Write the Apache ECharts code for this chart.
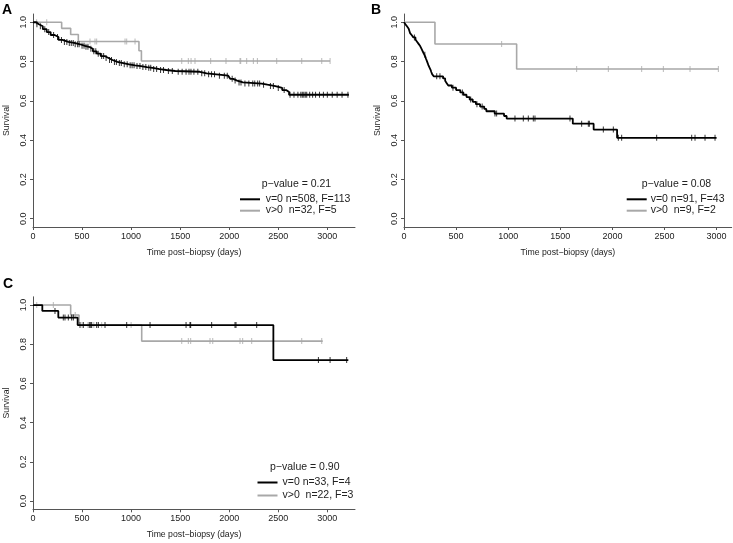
<!DOCTYPE html>
<html>
<head>
<meta charset="utf-8">
<script src="https://cdn.jsdelivr.net/npm/echarts@6/dist/echarts.min.js"></script>
<style>html,body{margin:0;padding:0;background:#fff}#c{width:733px;height:543px}</style>
</head>
<body>
<div id="c"></div>
<script>
// ---------- Data ----------
var xTicks = [0, 500, 1000, 1500, 2000, 2500, 3000];
var yTicks = [0, 0.2, 0.4, 0.6, 0.8, 1.0];

// Panel A: v=0 (n=508) Kaplan-Meier steps [day, survival]
var A_v0 = [[0,1.0],[30,0.99],[60,0.98],[100,0.965],[140,0.95],[180,0.935],[220,0.925],[260,0.91],[300,0.90],[360,0.895],[420,0.888],[480,0.88],[530,0.875],[570,0.865],[610,0.852],[650,0.84],[690,0.828],[730,0.818],[770,0.808],[810,0.798],[860,0.792],[920,0.786],[980,0.781],[1040,0.777],[1100,0.772],[1160,0.768],[1220,0.762],[1290,0.757],[1360,0.752],[1450,0.748],[1700,0.740],[1770,0.735],[1870,0.728],[1990,0.72],[2010,0.712],[2040,0.703],[2080,0.694],[2140,0.688],[2330,0.682],[2390,0.675],[2470,0.666],[2540,0.655],[2580,0.645],[2610,0.631],[3220,0.631]];
var A_v0_cens = [40,75,120,160,210,250,290,320,345,370,390,410,430,455,470,500,520,540,560,590,620,640,665,700,720,745,780,800,830,850,880,900,930,960,990,1010,1030,1060,1090,1120,1150,1180,1200,1230,1260,1300,1330,1380,1420,1480,1520,1560,1590,1610,1640,1680,1720,1750,1790,1820,1850,1900,1950,1980,2030,2060,2100,2120,2160,2200,2240,2260,2290,2310,2350,2420,2450,2500,2560,2620,2660,2700,2730,2745,2760,2775,2790,2820,2850,2880,2920,2960,3000,3050,3100,3150,3210];
// Panel A: v>0 (n=32)
var A_v1 = [[0,1.0],[292,0.969],[384,0.9375],[462,0.902],[1080,0.855],[1105,0.803],[3028,0.803]];
var A_v1_cens = [37,140,581,632,649,938,955,1040,1516,1583,1611,1651,1811,1967,2110,2117,2178,2246,2287,2484,2739,2943,3028];

// Panel B: v=0 (n=91)
var B_v0 = [[0,1.0],[15,0.989],[30,0.978],[45,0.967],[58,0.945],[75,0.934],[90,0.923],[110,0.912],[125,0.901],[140,0.89],[155,0.879],[165,0.868],[175,0.857],[185,0.846],[195,0.835],[205,0.824],[212,0.813],[220,0.802],[228,0.791],[235,0.78],[245,0.769],[255,0.758],[262,0.747],[270,0.736],[285,0.725],[375,0.714],[395,0.702],[410,0.69],[425,0.678],[460,0.667],[500,0.655],[540,0.643],[570,0.631],[600,0.619],[630,0.607],[660,0.595],[690,0.583],[730,0.571],[770,0.559],[790,0.547],[870,0.535],[960,0.523],[985,0.51],[1620,0.484],[1820,0.454],[2045,0.412],[3000,0.412]];
var B_v0_cens = [100,200,314,345,470,560,640,700,750,873,889,1065,1145,1193,1241,1257,1593,1705,1769,1779,1913,2009,2057,2089,2425,2761,2793,2889,2985];
// Panel B: v>0 (n=9)
var B_v1 = [[0,1.0],[297,0.889],[1081,0.762],[3017,0.762]];
var B_v1_cens = [937,1657,1961,2281,2489,2745,3017];

// Panel C: v=0 (n=33)
var C_v0 = [[0,1.0],[95,0.97],[258,0.936],[455,0.898],[2450,0.719],[3214,0.719]];
var C_v0_cens = [224,309,326,360,394,411,479,513,574,588,598,649,666,734,955,1193,1560,1600,1607,1821,2059,2069,2280,2909,3028,3197];
// Panel C: v>0 (n=22)
var C_v1 = [[0,1.0],[384,0.949],[469,0.898],[1108,0.816],[2953,0.816]];
var C_v1_cens = [38,207,430,500,560,620,700,1000,1516,1583,1607,1804,1832,2110,2137,2229,2450,2739,2943];

var legendTexts = [
  ['p\u2212value = 0.21', 'v=0 n=508, F=113', 'v>0  n=32, F=5'],
  ['p\u2212value = 0.08', 'v=0 n=91, F=43', 'v>0  n=9, F=2'],
  ['p\u2212value = 0.90', 'v=0 n=33, F=4', 'v>0  n=22, F=3']
];
var panelLabels = ['A', 'B', 'C'];

// ---------- Chart ----------
var FONT = '"Liberation Sans", Arial, Helvetica, sans-serif';
var BLACK = '#000000', GRAY = '#a8a8a8', AXIS = '#555555', TXT = '#222222';

function survAt(curve, t) {
  var v = curve[0][1];
  for (var i = 0; i < curve.length; i++) { if (curve[i][0] <= t) v = curve[i][1]; }
  return v;
}
function censPts(curve, times) { return times.map(function (t) { return [t, survAt(curve, t)]; }); }

var grids = [
  {left: 33, top: 14, width: 322, height: 213},
  {left: 404, top: 14, width: 327.7, height: 213},
  {left: 33, top: 296.8, width: 322, height: 212.5}
];
var xMax = [3282, 3145, 3282];

var xAxes = [], yAxes = [], series = [];
var panels = [[A_v0, A_v0_cens, A_v1, A_v1_cens], [B_v0, B_v0_cens, B_v1, B_v1_cens], [C_v0, C_v0_cens, C_v1, C_v1_cens]];

for (var i = 0; i < 3; i++) {
  xAxes.push({
    type: 'value', gridIndex: i, min: 0, max: xMax[i], interval: 500,
    axisLine: {show: true, onZero: false, lineStyle: {color: AXIS, width: 1}},
    axisTick: {show: true, length: 3, customValues: xTicks, lineStyle: {color: AXIS}},
    axisLabel: {customValues: xTicks, fontSize: 9, color: TXT, margin: 5, fontFamily: FONT,
      formatter: function (v) { return String(Math.round(v)); }},
    splitLine: {show: false},
    name: 'Time post\u2212biopsy (days)', nameLocation: 'middle', nameGap: 21,
    nameTextStyle: {fontSize: 8.7, color: TXT, fontFamily: FONT}
  });
  yAxes.push({
    type: 'value', gridIndex: i, min: -0.042, max: 1.042, interval: 0.2,
    axisLine: {show: true, onZero: false, lineStyle: {color: AXIS, width: 1}},
    axisTick: {show: true, length: 3, customValues: yTicks, lineStyle: {color: AXIS}},
    axisLabel: {customValues: yTicks, rotate: 90, fontSize: 9, color: TXT, margin: 5, fontFamily: FONT,
      formatter: function (v) { return v.toFixed(1); }},
    splitLine: {show: false},
    name: 'Survival', nameLocation: 'middle', nameGap: 22, nameRotate: 90,
    nameTextStyle: {fontSize: 8.7, color: TXT, fontFamily: FONT}
  });
  var p = panels[i];
  series.push({type: 'line', xAxisIndex: i, yAxisIndex: i, step: 'end', data: p[2], showSymbol: false,
    lineStyle: {color: GRAY, width: 1.6}, silent: true, z: 2});
  series.push({type: 'scatter', xAxisIndex: i, yAxisIndex: i, data: censPts(p[2], p[3]), symbol: 'rect',
    symbolSize: [1, 6], itemStyle: {color: GRAY}, silent: true, z: 2});
  series.push({type: 'line', xAxisIndex: i, yAxisIndex: i, step: 'end', data: p[0], showSymbol: false,
    lineStyle: {color: BLACK, width: 1.8}, silent: true, z: 3});
  series.push({type: 'scatter', xAxisIndex: i, yAxisIndex: i, data: censPts(p[0], p[1]), symbol: 'rect',
    symbolSize: [1, 6], itemStyle: {color: BLACK}, silent: true, z: 3});
}

// Legends and panel letters
var legendPos = [
  {px: 261.7, py: 185, lx: 240, tx: 265.7, y1: 199.3, y2: 210.7},
  {px: 641.7, py: 185, lx: 626.7, tx: 650.7, y1: 199.3, y2: 210.7},
  {px: 270, py: 468, lx: 257.5, tx: 282.5, y1: 482.5, y2: 495.5}
];
var letterPos = [[2, 3], [371, 3], [3, 277]];
var graphics = [];
for (var k = 0; k < 3; k++) {
  var L = legendPos[k], T = legendTexts[k];
  graphics.push({type: 'text', left: L.px, top: L.py - 6, style: {text: T[0], font: '10.5px ' + FONT, fill: TXT}});
  graphics.push({type: 'line', shape: {x1: L.lx, y1: L.y1, x2: L.lx + 20, y2: L.y1}, style: {stroke: BLACK, lineWidth: 2}});
  graphics.push({type: 'line', shape: {x1: L.lx, y1: L.y2, x2: L.lx + 20, y2: L.y2}, style: {stroke: GRAY, lineWidth: 2}});
  graphics.push({type: 'text', left: L.tx, top: L.y1 - 6, style: {text: T[1], font: '10.5px ' + FONT, fill: TXT}});
  graphics.push({type: 'text', left: L.tx, top: L.y2 - 6, style: {text: T[2], font: '10.5px ' + FONT, fill: TXT}});
  graphics.push({type: 'text', left: letterPos[k][0], top: letterPos[k][1], style: {text: panelLabels[k], font: 'bold 14px ' + FONT, fill: '#000'}});
}

var chart = echarts.init(document.getElementById('c'), null, {renderer: 'canvas'});
chart.setOption({
  animation: false,
  backgroundColor: '#ffffff',
  grid: grids,
  xAxis: xAxes,
  yAxis: yAxes,
  series: series,
  graphic: graphics
});
</script>
</body>
</html>
